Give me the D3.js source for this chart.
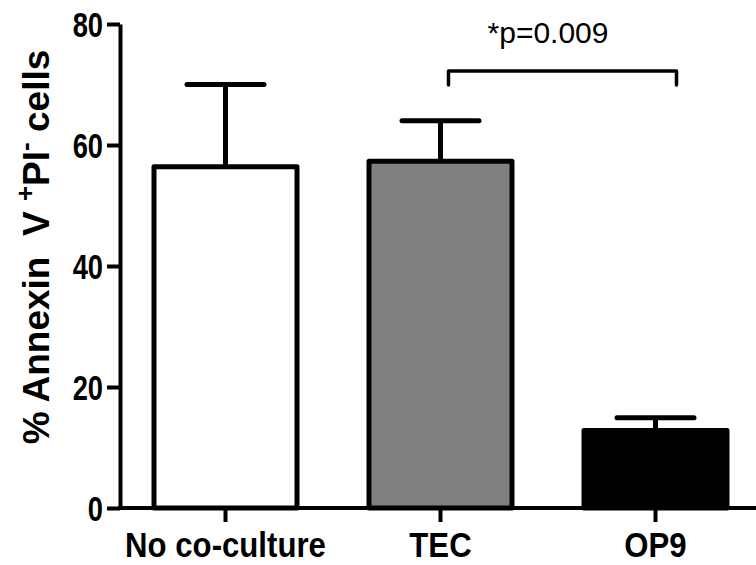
<!DOCTYPE html>
<html>
<head>
<meta charset="utf-8">
<script src="https://cdn.jsdelivr.net/npm/d3@7"></script>
<style>
  html, body { margin: 0; padding: 0; background: #fff; }
  svg { display: block; }
  .tick text, .cat { font-family: "Liberation Sans", Arial, sans-serif; font-weight: bold; }
</style>
</head>
<body>
<svg id="chart" width="756" height="565"></svg>
<script>
// Apoptosis of cells by culture condition: mean with upper SD bar
const categories = ["No co-culture", "TEC", "OP9"];
const means = [56.4, 57.3, 12.8];
const errUpper = [70.0, 64.0, 14.9];
const fills = ["#ffffff", "#808080", "#000000"];
const yTicks = [0, 20, 40, 60, 80];
const sigPair = ["TEC", "OP9"];
const sigLabel = "*p=0.009";

const svg = d3.select("#chart");
const W = 756, H = 565;
const x0 = 118, y0 = 508, yTop = 24;

const y = d3.scaleLinear().domain([0, 80]).range([y0, yTop]);
const x = d3.scalePoint().domain(categories).range([x0, x0 + 645]).padding(0.5);
const barW = 143;
const capW = 77;

// condense bold labels horizontally (narrow bold face look)
function condense(sel, k) {
  sel.each(function () {
    const n = this.getComputedTextLength();
    d3.select(this).attr("textLength", n * k).attr("lengthAdjust", "spacingAndGlyphs");
  });
}

// bars
svg.append("g").selectAll("rect")
  .data(categories)
  .join("rect")
  .attr("x", d => x(d) - barW / 2)
  .attr("y", (d, i) => y(means[i]))
  .attr("width", barW)
  .attr("height", (d, i) => y(0) - y(means[i]))
  .attr("fill", (d, i) => fills[i])
  .attr("stroke", "#000")
  .attr("stroke-width", 5)
  .attr("stroke-linejoin", "round");

// error bars (upper only)
const eb = svg.append("g").attr("stroke", "#000").attr("stroke-linecap", "round");
categories.forEach((c, i) => {
  eb.append("line")
    .attr("x1", x(c)).attr("x2", x(c))
    .attr("y1", y(means[i])).attr("y2", y(errUpper[i]))
    .attr("stroke-width", 5).attr("stroke-linecap", "butt");
  eb.append("line")
    .attr("x1", x(c) - capW / 2).attr("x2", x(c) + capW / 2)
    .attr("y1", y(errUpper[i])).attr("y2", y(errUpper[i]))
    .attr("stroke-width", 5);
});

// y axis
const yAxis = d3.axisLeft(y).tickValues(yTicks).tickSize(13).tickSizeOuter(0).tickPadding(4);
const gy = svg.append("g").attr("transform", `translate(${x0 + 2},0)`).call(yAxis);
gy.select(".domain").attr("stroke-width", 4);
gy.selectAll(".tick line").attr("stroke-width", 4);
gy.selectAll(".tick text").attr("font-size", 35).attr("fill", "#000").attr("dy", "0.36em")
  .call(condense, 0.78);

// x axis
const gx = svg.append("g").attr("transform", `translate(0,${y0})`);
gx.append("line").attr("x1", x0).attr("x2", W).attr("y1", 0).attr("y2", 0)
  .attr("stroke", "#000").attr("stroke-width", 4);
gx.selectAll(".xt").data(categories).join("line")
  .attr("x1", d => x(d)).attr("x2", d => x(d))
  .attr("y1", 0).attr("y2", 14)
  .attr("stroke", "#000").attr("stroke-width", 4);
gx.selectAll(".cat").data(categories).join("text")
  .attr("class", "cat")
  .attr("x", d => x(d)).attr("y", 49)
  .attr("text-anchor", "middle")
  .attr("font-size", 35)
  .text(d => d)
  .call(condense, 0.89);

// significance bracket
const bx1 = x(sigPair[0]) + 8, bx2 = x(sigPair[1]) + 21;
const by = 71;
svg.append("path")
  .attr("d", `M${bx1},${by + 14}V${by}H${bx2}V${by + 14}`)
  .attr("fill", "none").attr("stroke", "#000").attr("stroke-width", 3.5)
  .attr("stroke-linecap", "round").attr("stroke-linejoin", "round");
svg.append("text")
  .attr("x", (x(sigPair[0]) + x(sigPair[1])) / 2).attr("y", 43)
  .attr("text-anchor", "middle")
  .attr("font-family", "'Liberation Sans', Arial, sans-serif")
  .attr("font-size", 30)
  .text(sigLabel);

// y axis title with superscripts
const title = svg.append("text")
  .attr("transform", `translate(49,247) rotate(-90)`)
  .attr("text-anchor", "middle")
  .attr("font-family", "'Liberation Sans', Arial, sans-serif")
  .attr("font-weight", "bold")
  .attr("font-size", 37)
  .attr("xml:space", "preserve");
title.append("tspan").text("% Annexin  V ");
title.append("tspan").attr("font-size", 26).attr("dy", -15).text("+");
title.append("tspan").attr("dy", 15).text("PI");
title.append("tspan").attr("font-size", 26).attr("dy", -15).text("-");
title.append("tspan").attr("dy", 15).text(" cells");
</script>
</body>
</html>
